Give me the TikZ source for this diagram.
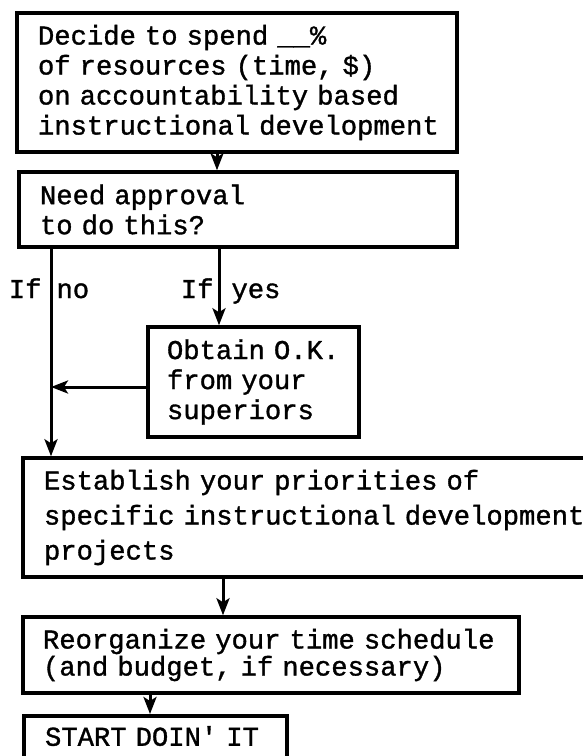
\documentclass[tikz,border=0pt]{standalone}
\usepackage{fontspec}
\setmonofont{Liberation Mono}[FakeBold=1.2]
\usetikzlibrary{arrows.meta}

\newcommand{\twfont}[1]{\ttfamily\fontsize{27.2pt}{#1}\selectfont\spaceskip=0.6em\relax}

\tikzset{
	flowbox/.style={draw, rectangle, line width=3.5pt, align=left, inner xsep=21pt, inner ysep=0pt,
		font=\twfont{30pt}},
	lbl/.style={inner sep=0pt, font=\twfont{30pt}}
}

\begin{document}
\begin{tikzpicture}[x=1pt, y=-1pt, line width=3pt, >={Stealth[length=17pt,width=13pt,inset=4pt]}]
			\path[use as bounding box] (0,0) rectangle (583,756);
			\clip (0,0) rectangle (583,756);
			\node[flowbox, text width=398pt, minimum height=139pt] (decide) at (237,82.5)
				{Decide to spend \_\_\%\\of resources (time, \$)\\on accountability based\\instructional~development};
			\node[flowbox, text width=396pt, minimum height=75pt] (need) at (238,209.5)
				{Need approval\\to do this?};
			\node[flowbox, text width=173pt, inner xsep=19pt, minimum height=110pt] (obtain) at (253.5,382)
				{Obtain~O.K.\\from~your\\superiors};
			\node[flowbox, text width=585pt, minimum height=119pt, font=\twfont{35pt}] (establish) at (336.5,517.5)
				{Establish your priorities of\\specific instructional development\\projects};
			\node[flowbox, text width=456pt, inner xsep=20pt, minimum height=76pt, font=\twfont{27pt}] (reorg) at (271,655)
				{Reorganize~your~time~schedule\\(and budget, if necessary)};
			\node[flowbox, text width=221pt, anchor=north, inner ysep=15pt, text height=15pt, text depth=40pt] (start) at (155.5,714)
				{START~DOIN'~IT};
			\coordinate (nojoin) at (51,387);
			\draw[->] ([xshift=-20pt]decide.south) -- ([xshift=-20pt]decide.south |- need.north);
			\draw[->] ([xshift=-19pt]need.south) -- ([xshift=-19pt]need.south |- obtain.north);
			\draw[->] (nojoin |- need.south) -- (nojoin |- establish.north);
			\draw[->] (obtain.west |- nojoin) -- (nojoin);
			\draw[->] ([xshift=-48pt]reorg.north |- establish.south) -- ([xshift=-48pt]reorg.north);
			\draw[->] ([xshift=-5.5pt]start.north |- reorg.south) -- ([xshift=-5.5pt]start.north);
			\foreach \x/\y/\lab in {43/55/no,215/230/yes}{
				\node[lbl, anchor=base east] (if\lab) at (\x,298) {If};
				\node[lbl, anchor=base west] (ans\lab) at (\y,298) {\lab};
			}
		\end{tikzpicture}
\end{document}
